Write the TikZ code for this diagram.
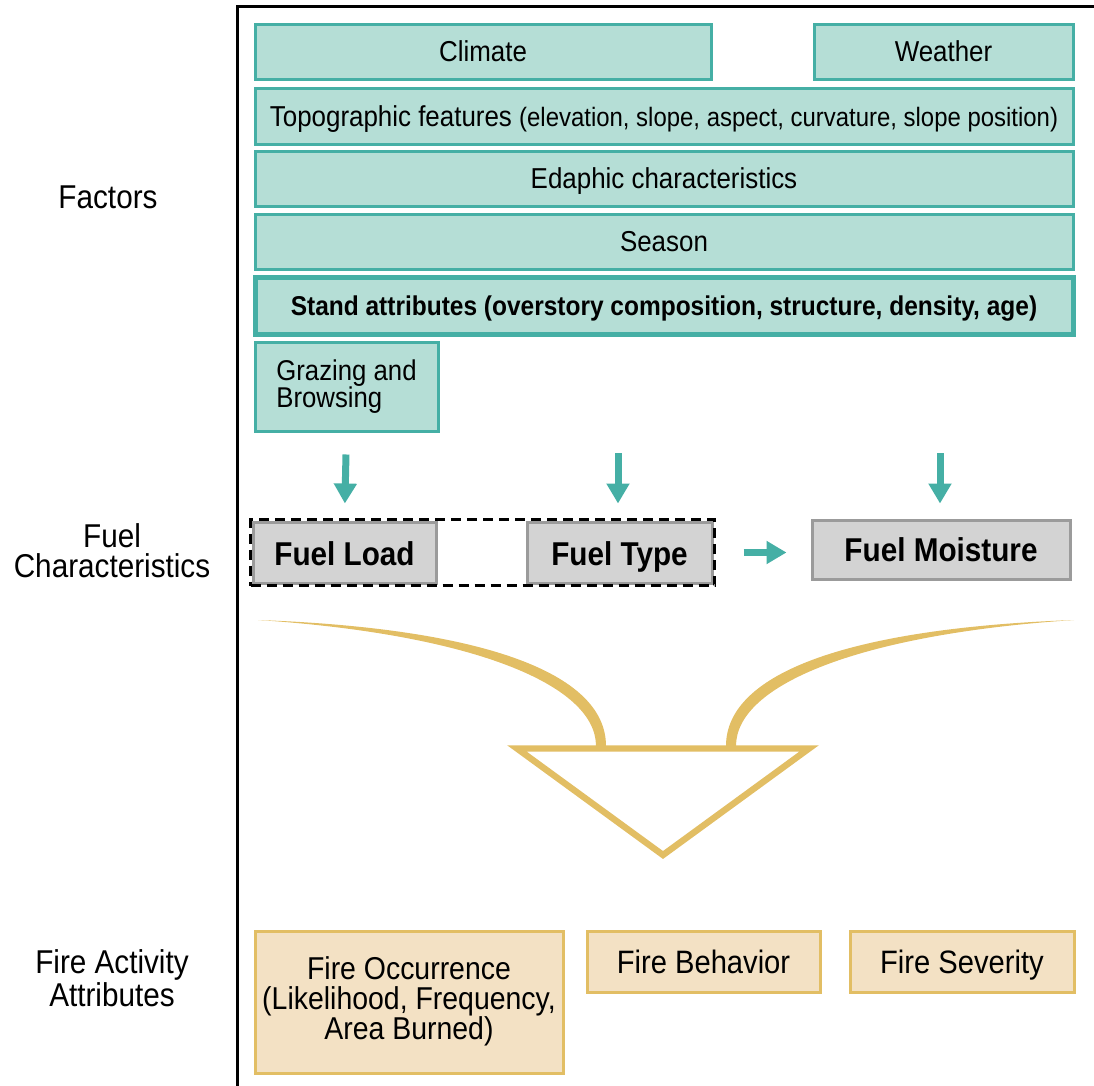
\documentclass[tikz,border=0pt]{standalone}
\usepackage{fontspec}
\setmainfont[FakeStretch=0.9]{Liberation Sans}
\usepackage{xcolor}
\usetikzlibrary{
    arrows.meta,
    fit,
    positioning
}

\definecolor{tealfill}{HTML}{B5DED6}
\definecolor{tealline}{HTML}{45AFA5}
\definecolor{grayfill}{HTML}{D3D3D3}
\definecolor{grayline}{HTML}{9B9B9B}
\definecolor{tanfill}{HTML}{F3E1C4}
\definecolor{goldline}{HTML}{E2BE64}

\newcommand{\fsz}[2]{\fontsize{#1}{#2}\selectfont}

\tikzset{
    factor/.style={draw=tealline, fill=tealfill, line width=1.5pt, minimum height=27.5pt, inner sep=0pt, text height=12pt, text depth=2.5pt, font=\fsz{14.4}{15}},
    fuel/.style={draw=grayline, fill=grayfill, line width=1.5pt, minimum height=30.5pt, inner sep=0pt, text height=15.5pt, text depth=2.5pt, font=\bfseries\fsz{16.5}{17}},
    fire/.style={draw=goldline, fill=tanfill, line width=1.5pt, inner sep=0pt, font=\fsz{16.2}{15}, align=center},
    rowlabel/.style={align=center, font=\fsz{16.5}{15}},
    flow/.style={draw=tealline, line width=3.5pt, -{Triangle[width=11pt,length=10pt]}}
}

\begin{document}
\begin{tikzpicture}[x=0.5pt, y=-0.5pt]
                        \useasboundingbox (0,0) rectangle (1094,1086);

                        \node[rowlabel] (factors) at (108,197) {Factors};
                        \node[rowlabel] (fuelchar) at (112,551) {Fuel\\Characteristics};
                        \node[rowlabel] (fireattr) at (112,978) {Fire Activity\\Attributes};

                        \node[factor, minimum width=228pt] (climate) at (483,52.5) {Climate};
                        \node[factor, minimum width=129.5pt] (weather) at (943.5,52.5) {Weather};
                        \node[factor, minimum width=409pt, minimum height=28pt] (topo) at (664,117) {Topographic features {\fsz{13.3}{15}(elevation, slope, aspect, curvature, slope position)}};
                        \node[factor, minimum width=409pt] (edaphic) at (664,179.5) {Edaphic characteristics};
                        \node[factor, minimum width=409pt] (season) at (664,242.5) {Season};
                        \node[factor, minimum width=409pt, minimum height=28pt, line width=2.5pt, font=\bfseries\fsz{13.6}{15}] (stand) at (664,306) {Stand attributes (overstory composition, structure, density, age)};
                        \node[factor, minimum width=91.5pt, minimum height=44.5pt, align=left, text height=, text depth=, font=\fsz{14.3}{13.5}] (grazing) at (346.5,386.5) {Grazing and\\Browsing};

                        \node[fuel, minimum width=91.5pt] (load) at (344.5,552.5) {Fuel Load};
                        \node[fuel, minimum width=92.5pt] (type) at (619.5,552.5) {Fuel Type};
                        \node[fuel, minimum width=129pt, minimum height=29.5pt, text height=14pt] (moisture) at (941,549.5) {Fuel Moisture};
                        \node[draw, dash pattern=on 5pt off 3pt, line width=1.6pt, fit=(load)(type), inner sep=0.5pt] (pair) {};

                        \node[fire, minimum width=154pt, minimum height=71pt, font=\fsz{15.8}{15}] (occurrence) at (409,1002) {Fire Occurrence\\(Likelihood, Frequency,\\Area Burned)\\[-11pt]};
                        \node[fire, minimum width=116.5pt, minimum height=30.5pt, text height=14.5pt, text depth=2.5pt] (behavior) at (703.5,961.5) {Fire Behavior};
                        \node[fire, minimum width=112pt, minimum height=30.5pt, text height=14.5pt, text depth=2.5pt] (severity) at (962,961.5) {Fire Severity};

                        \coordinate (typein) at (618,453);
                        \coordinate (moistin) at (940,453);

                        \draw[line width=1.5pt] (237,1086) -- (237,7) -- (1094,7);

                        \draw[flow, shorten <=11pt, shorten >=8.5pt] (grazing.south) -- (load.north);
                        \draw[flow, shorten >=8.5pt] (typein) -- (type.north -| typein);
                        \draw[flow, shorten >=7.5pt] (moistin) -- (moisture.north -| moistin);
                        \draw[flow, shorten <=15pt, shorten >=12pt] (type.east) -- (type.east -| moisture.west);

                        \fill[goldline] (258,620) .. controls (480,628) and (606,672) .. (606,746)
                            -- (596,746) .. controls (596,684) and (470,634) .. (258,620) -- cycle;
                        \fill[goldline] (1074,620) .. controls (852,628) and (726,672) .. (726,746)
                            -- (736,746) .. controls (736,684) and (862,634) .. (1074,620) -- cycle;
                        \draw[goldline, line width=3.2pt, fill=white, line join=miter] (517,748.5) -- (809,748.5) -- (663,855) -- cycle;
                    \end{tikzpicture}
\end{document}
